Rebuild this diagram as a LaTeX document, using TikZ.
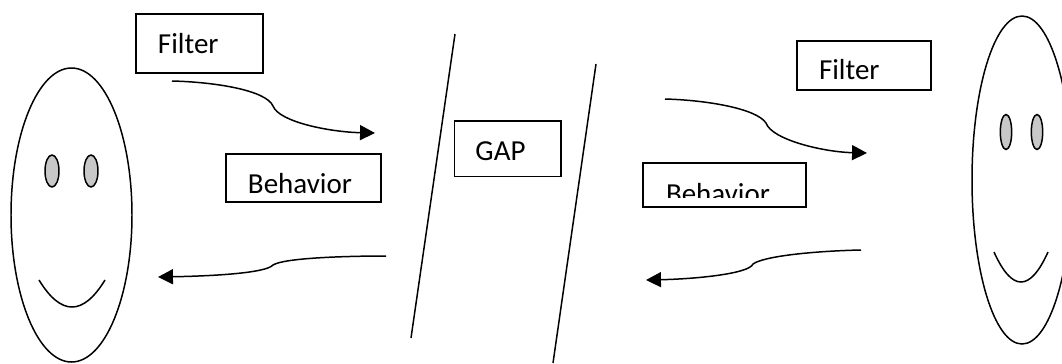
\documentclass[tikz,border=0pt]{standalone}
\usepackage{fontspec}
\setmainfont{Carlito}
\usetikzlibrary{arrows.meta}

\definecolor{eyegray}{HTML}{C8C8C8}
\tikzset{
  labelbox/.style={draw,anchor=north west,align=left,outer sep=0pt,inner ysep=0pt,
    font=\fontsize{16.5}{19}\selectfont},
  flow/.style={-{Triangle[length=8.5pt,width=8.5pt]}},
}

\begin{document}
\begin{tikzpicture}[x=.02cm,y=-.02cm,line width=.85pt]
  \useasboundingbox (0,0) rectangle (1062,363);

  % left face
  \draw (71.5,215) ellipse [x radius=60.5,y radius=147];
  \foreach \x in {52,91} {%
    \draw[fill=eyegray] (\x,171) ellipse [x radius=7,y radius=16];
  }
  \draw (39,280) .. controls (61,316) and (83,316) .. (105,280);

  % right face
  \draw (1022,180) ellipse [x radius=50,y radius=164];
  \foreach \x in {1006,1037} {%
    \draw[fill=eyegray] (\x,132) ellipse [x radius=5.7,y radius=17.5];
  }
  \draw (994,252) .. controls (1012,292) and (1030,292) .. (1048,252);

  % boxes
  \node[labelbox,inner xsep=.44cm,text width=1.66cm,text height=.8cm,text depth=.38cm]
    (filterleft) at (136,14) {Filter};
  \node[labelbox,inner xsep=.44cm,text width=2.22cm,text height=.78cm,text depth=.18cm]
    (behaviorleft) at (226,154) {Behavior};
  \node[labelbox,inner xsep=.42cm,text width=1.29cm,text height=.79cm,text depth=.32cm]
    (gap) at (454.5,121) {GAP};
  \node[labelbox,inner xsep=.44cm,text width=1.8cm,text height=.78cm,text depth=.2cm]
    (filterright) at (797,41) {Filter};
  \node[labelbox,inner xsep=.46cm,text width=2.34cm,text height=.8cm,text depth=.08cm]
    (behaviorright) at (643,163) {Behavior};
  \fill[white] (647,197.5) rectangle (802,205);

  % gap walls
  \coordinate (walla) at (455,34);
  \coordinate (wallb) at (411,338);
  \coordinate (wallc) at (596,64);
  \coordinate (walld) at (553,363);
  \draw (walla) -- (wallb);
  \draw (wallc) -- (walld);

  % flows
  \coordinate (fla) at (172,81);
  \coordinate (flb) at (375,133);
  \coordinate (blb) at (386,256);
  \coordinate (bla) at (158,277);
  \coordinate (fra) at (665,99);
  \coordinate (frb) at (867,153);
  \coordinate (brb) at (861,250);
  \coordinate (bra) at (646,280);
  \draw[flow] (fla) .. controls (214,82) and (266,90) .. (273,106)
    .. controls (279,122) and (330,132) .. (flb);
  \draw[flow] (blb) .. controls (344,256) and (284,258) .. (273,265)
    .. controls (266,273) and (214,276) .. (bla);
  \draw[flow] (fra) .. controls (704,100) and (756,108) .. (766,123)
    .. controls (772,140) and (824,152) .. (frb);
  \draw[flow] (brb) .. controls (815,251) and (764,256) .. (753,264)
    .. controls (749,274) and (694,279) .. (bra);
\end{tikzpicture}
\end{document}
